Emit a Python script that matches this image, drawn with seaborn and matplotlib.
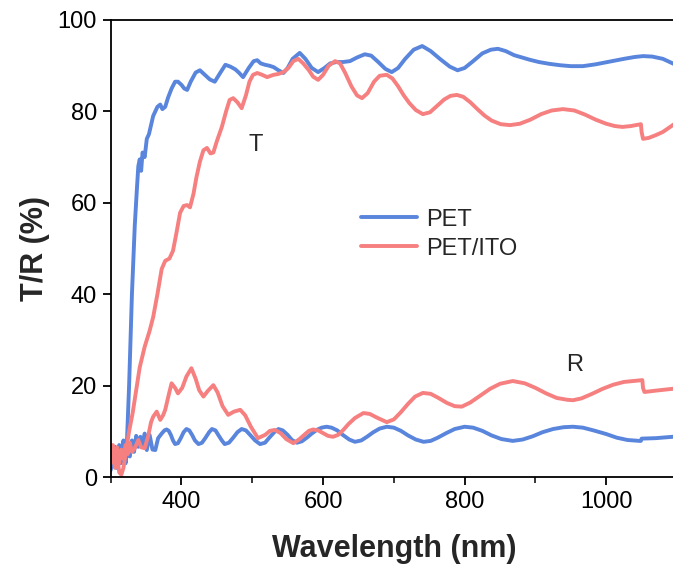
import numpy as np
import pandas as pd
import matplotlib
matplotlib.use("Agg")
import matplotlib.pyplot as plt
from matplotlib.ticker import MultipleLocator
import seaborn as sns

# ---- transmittance (T) and reflectance (R) spectra, wavelength in nm, values in % ----
pet_T_nm = [300, 305, 308, 311, 314, 317, 320, 323, 326, 330, 334, 337, 339, 341, 343, 345,
            348, 351, 354, 357, 360, 363, 366, 370, 373, 377, 381, 386, 391, 395, 400, 404,
            408, 413, 420, 426, 433, 440, 447, 455, 462, 469, 476, 481, 487, 495, 502, 507,
            512, 518, 524, 530, 537, 544, 550, 557, 567, 575, 584, 593, 602, 610, 619, 628,
            638, 648, 659, 668, 678, 688, 697, 706, 716, 728, 740, 752, 765, 779, 790, 800,
            812, 825, 837, 847, 858, 870, 881, 892, 905, 920, 935, 950, 967, 985, 1005, 1025,
            1040, 1052, 1065, 1080, 1094, 1100]
pet_T = [1.5, 5, 2, 6, 3, 7, 4, 8, 20, 40, 55, 63, 68, 69.5, 67, 71,
         70, 74, 75, 77, 79, 80, 81, 81.5, 80.5, 81, 83, 85, 86.5, 86.5, 85.8, 85,
         84.7, 86.5, 88.5, 89, 88, 87, 86.5, 88.5, 90.2, 89.8, 89.2, 88.5, 87.5, 89.5, 91, 91.2,
         90.5, 90.2, 90, 89.7, 89, 88.4, 89.5, 91.5, 92.8, 91.5, 89.5, 88.6, 89.5, 90.5, 90.8, 90.8,
         91, 91.8, 92.5, 92.2, 90.8, 89.3, 88.6, 89.5, 91.5, 93.5, 94.3, 93.2, 91.5, 89.8, 89, 89.5,
         91, 92.7, 93.5, 93.7, 93.2, 92.3, 91.8, 91.3, 90.8, 90.4, 90.1, 89.9, 89.9, 90.3, 90.9, 91.5,
         91.9, 92.1, 92, 91.5, 90.5, 90]

ito_T_nm = [300, 303, 306, 309, 312, 315, 318, 322, 326, 331, 336, 341, 348, 355, 360, 366,
            372, 377, 383, 388, 393, 398, 403, 408, 412, 417, 421, 426, 431, 436, 441, 445,
            450, 457, 463, 468, 473, 479, 485, 491, 496, 501, 507, 514, 521, 530, 537, 544,
            551, 558, 565, 572, 580, 586, 593, 600, 608, 617, 624, 631, 640, 648, 655, 663,
            672, 680, 690, 698, 706, 714, 722, 731, 741, 751, 761, 771, 780, 789, 798, 808,
            818, 828, 838, 851, 864, 878, 893, 908, 923, 939, 955, 970, 985, 1000, 1012, 1023,
            1035, 1049, 1050, 1052, 1060, 1070, 1080, 1094, 1100]
ito_T = [3, 6, 2, 5, 1, 0.5, 2, 6, 10, 14, 19, 24, 28.5, 32, 35, 40,
         45.5, 47.3, 47.8, 49.5, 53.5, 57.8, 59.3, 59.5, 59, 62, 65.5, 69, 71.5, 72, 70.8, 71,
         73.5, 76.6, 80, 82.5, 82.9, 82, 80.7, 83.5, 86.5, 88, 88.4, 88, 87.5, 88, 88.2, 88.6,
         89.5, 91, 91.5, 90.5, 89, 87.6, 86.9, 88, 90, 91, 90.5, 88.5, 85.5, 83.5, 82.9, 84,
         86.5, 87.8, 88, 87.2, 85.5, 83.5, 81.8, 80.3, 79.4, 79.8, 81.2, 82.6, 83.4, 83.6, 83.2, 82,
         80.5, 79.1, 78, 77.2, 77, 77.3, 78.2, 79.4, 80.2, 80.5, 80.2, 79.3, 78.2, 77.3, 76.8, 76.6,
         76.8, 77.2, 75.5, 74, 74.2, 74.8, 75.5, 77, 77.6]

pet_R_nm = [300, 303, 306, 309, 312, 315, 318, 321, 324, 327, 330, 333, 336, 339, 342, 345,
            348, 351, 355, 359, 363, 367, 372, 376, 379, 382, 385, 388, 391, 395, 399, 403,
            407, 411, 415, 419, 424, 429, 434, 439, 443, 448, 452, 457, 461, 467, 473, 479,
            485, 491, 497, 504, 511, 518, 524, 531, 537, 543, 550, 556, 563, 570, 577, 584,
            591, 598, 605, 612, 620, 628, 637, 645, 654, 662, 671, 680, 690, 700, 710, 720,
            731, 742, 752, 762, 774, 786, 800, 812, 825, 838, 852, 868, 882, 896, 910, 925,
            940, 953, 967, 982, 1000, 1015, 1030, 1047, 1049, 1050, 1070, 1094, 1100]
pet_R = [4, 2.5, 6.6, 4, 7, 5, 8, 3, 7, 4.5, 8, 5.5, 9, 6.6, 8.8, 7,
         9.5, 5.9, 9.2, 6, 5.9, 8.5, 9.5, 10.2, 10.4, 10.1, 9.2, 8, 7.2, 7.4, 8.5, 9.8,
         10.5, 10.2, 9.2, 8, 7.2, 7.5, 8.6, 9.8, 10.5, 10.2, 9.2, 8, 7.2, 7.5, 8.6, 9.8,
         10.5, 10.2, 9.2, 8, 7.2, 7.5, 8.6, 9.8, 10.5, 10.2, 9.2, 8.1, 7.5, 7.8, 8.6, 9.5,
         10.3, 10.8, 11, 10.8, 10.2, 9.2, 8.2, 7.7, 8, 8.8, 9.8, 10.6, 11, 10.8, 10.1, 9.1,
         8.2, 7.7, 7.9, 8.6, 9.6, 10.5, 11, 10.8, 10.1, 9.1, 8.3, 7.9, 8.2, 8.9, 9.8, 10.5,
         10.9, 11, 10.8, 10.2, 9.4, 8.6, 8.1, 7.9, 7.9, 8.4, 8.5, 8.8, 8.9]

ito_R_nm = [300, 303, 306, 309, 312, 315, 318, 321, 324, 327, 330, 334, 339, 343, 348, 353,
            357, 360, 365, 370, 374, 377, 382, 386, 391, 395, 401, 407, 414, 420, 425, 431,
            437, 445, 451, 458, 466, 474, 483, 490, 498, 508, 518, 525, 532, 540, 548, 558,
            566, 574, 580, 586, 593, 600, 607, 614, 621, 628, 636, 645, 657, 666, 676, 690,
            700, 710, 720, 730, 741, 752, 763, 775, 786, 796, 808, 822, 836, 850, 868, 885,
            900, 915, 930, 945, 953, 965, 980, 995, 1010, 1025, 1038, 1051, 1052, 1054, 1070, 1094,
            1100]
ito_R = [5, 7, 4, 6.5, 3, 6, 4, 7, 5, 7.5, 5.5, 6.3, 8.1, 6.5, 6.3, 9,
         12, 13.2, 14.3, 12.5, 13.5, 14.7, 18, 20.5, 19.5, 18.3, 19.5, 22, 23.8, 21.5, 19, 17.6,
         18.8, 20.1, 18.5, 15.5, 13.6, 14.3, 14.7, 13.5, 11, 8.5, 9.2, 10.1, 10.3, 9.6, 8.3, 7.4,
         8.2, 9.3, 10.1, 10.4, 10.2, 9.6, 9.0, 8.8, 9.2, 10.2, 11.6, 12.9, 14, 13.8, 13, 12,
         12.6, 14.2, 16, 17.6, 18.4, 18.2, 17.3, 16.2, 15.5, 15.4, 16.3, 17.8, 19.3, 20.4, 21, 20.5,
         19.5, 18.3, 17.3, 16.9, 16.8, 17.2, 18.2, 19.3, 20.2, 20.8, 21, 21.2, 19.5, 18.6, 18.9, 19.3,
         19.4]

samples = ["PET", "PET/ITO"]
palette = {"PET": "#5985DC", "PET/ITO": "#F67F80"}

frames = []
for sample, kind, x, y in [("PET", "T", pet_T_nm, pet_T),
                           ("PET", "R", pet_R_nm, pet_R),
                           ("PET/ITO", "T", ito_T_nm, ito_T),
                           ("PET/ITO", "R", ito_R_nm, ito_R)]:
    frames.append(pd.DataFrame({"wavelength": x, "value": y,
                                "sample": sample, "kind": kind}))
df = pd.concat(frames, ignore_index=True)

sns.set_style("ticks")
plt.rcParams["font.family"] = ["Liberation Sans", "DejaVu Sans"]

fig = plt.figure(figsize=(6.73, 5.71), dpi=100)
ax = fig.add_axes([110.7 / 673, 1 - 477 / 571, (677 - 110.7) / 673, (477 - 20) / 571])

sns.lineplot(data=df, x="wavelength", y="value", hue="sample", units="kind",
             estimator=None, sort=False, palette=palette, hue_order=samples,
             linewidth=2.8, ax=ax)

ax.set_xlim(300, 1100)
ax.set_ylim(0, 100)
ax.xaxis.set_minor_locator(MultipleLocator(100))
ax.yaxis.set_major_locator(MultipleLocator(20))
ax.set_xticks([400, 600, 800, 1000])
ax.tick_params(axis="both", which="major", direction="out", length=6, width=1.3,
               labelsize=17, colors="black", pad=4)
ax.tick_params(axis="x", which="minor", direction="out", length=4, width=1.3)
for side in ["left", "bottom", "top", "right"]:
    ax.spines[side].set_linewidth(1.3)
    ax.spines[side].set_color("black")

ax.set_xlabel("Wavelength (nm)", fontsize=22, fontweight="bold", labelpad=15)
ax.set_ylabel("T/R (%)", fontsize=22, fontweight="bold", labelpad=5)

ax.text(505, 72.6, "T", fontsize=17, ha="center", va="center")
ax.text(956, 24.5, "R", fontsize=17, ha="center", va="center")

ax.legend(title=None, frameon=False, fontsize=17, loc="upper left",
          bbox_to_anchor=(0.404, 0.634), handlelength=2.4, handletextpad=0.35,
          labelspacing=0.3)

fig.savefig("out.png", dpi=100)
